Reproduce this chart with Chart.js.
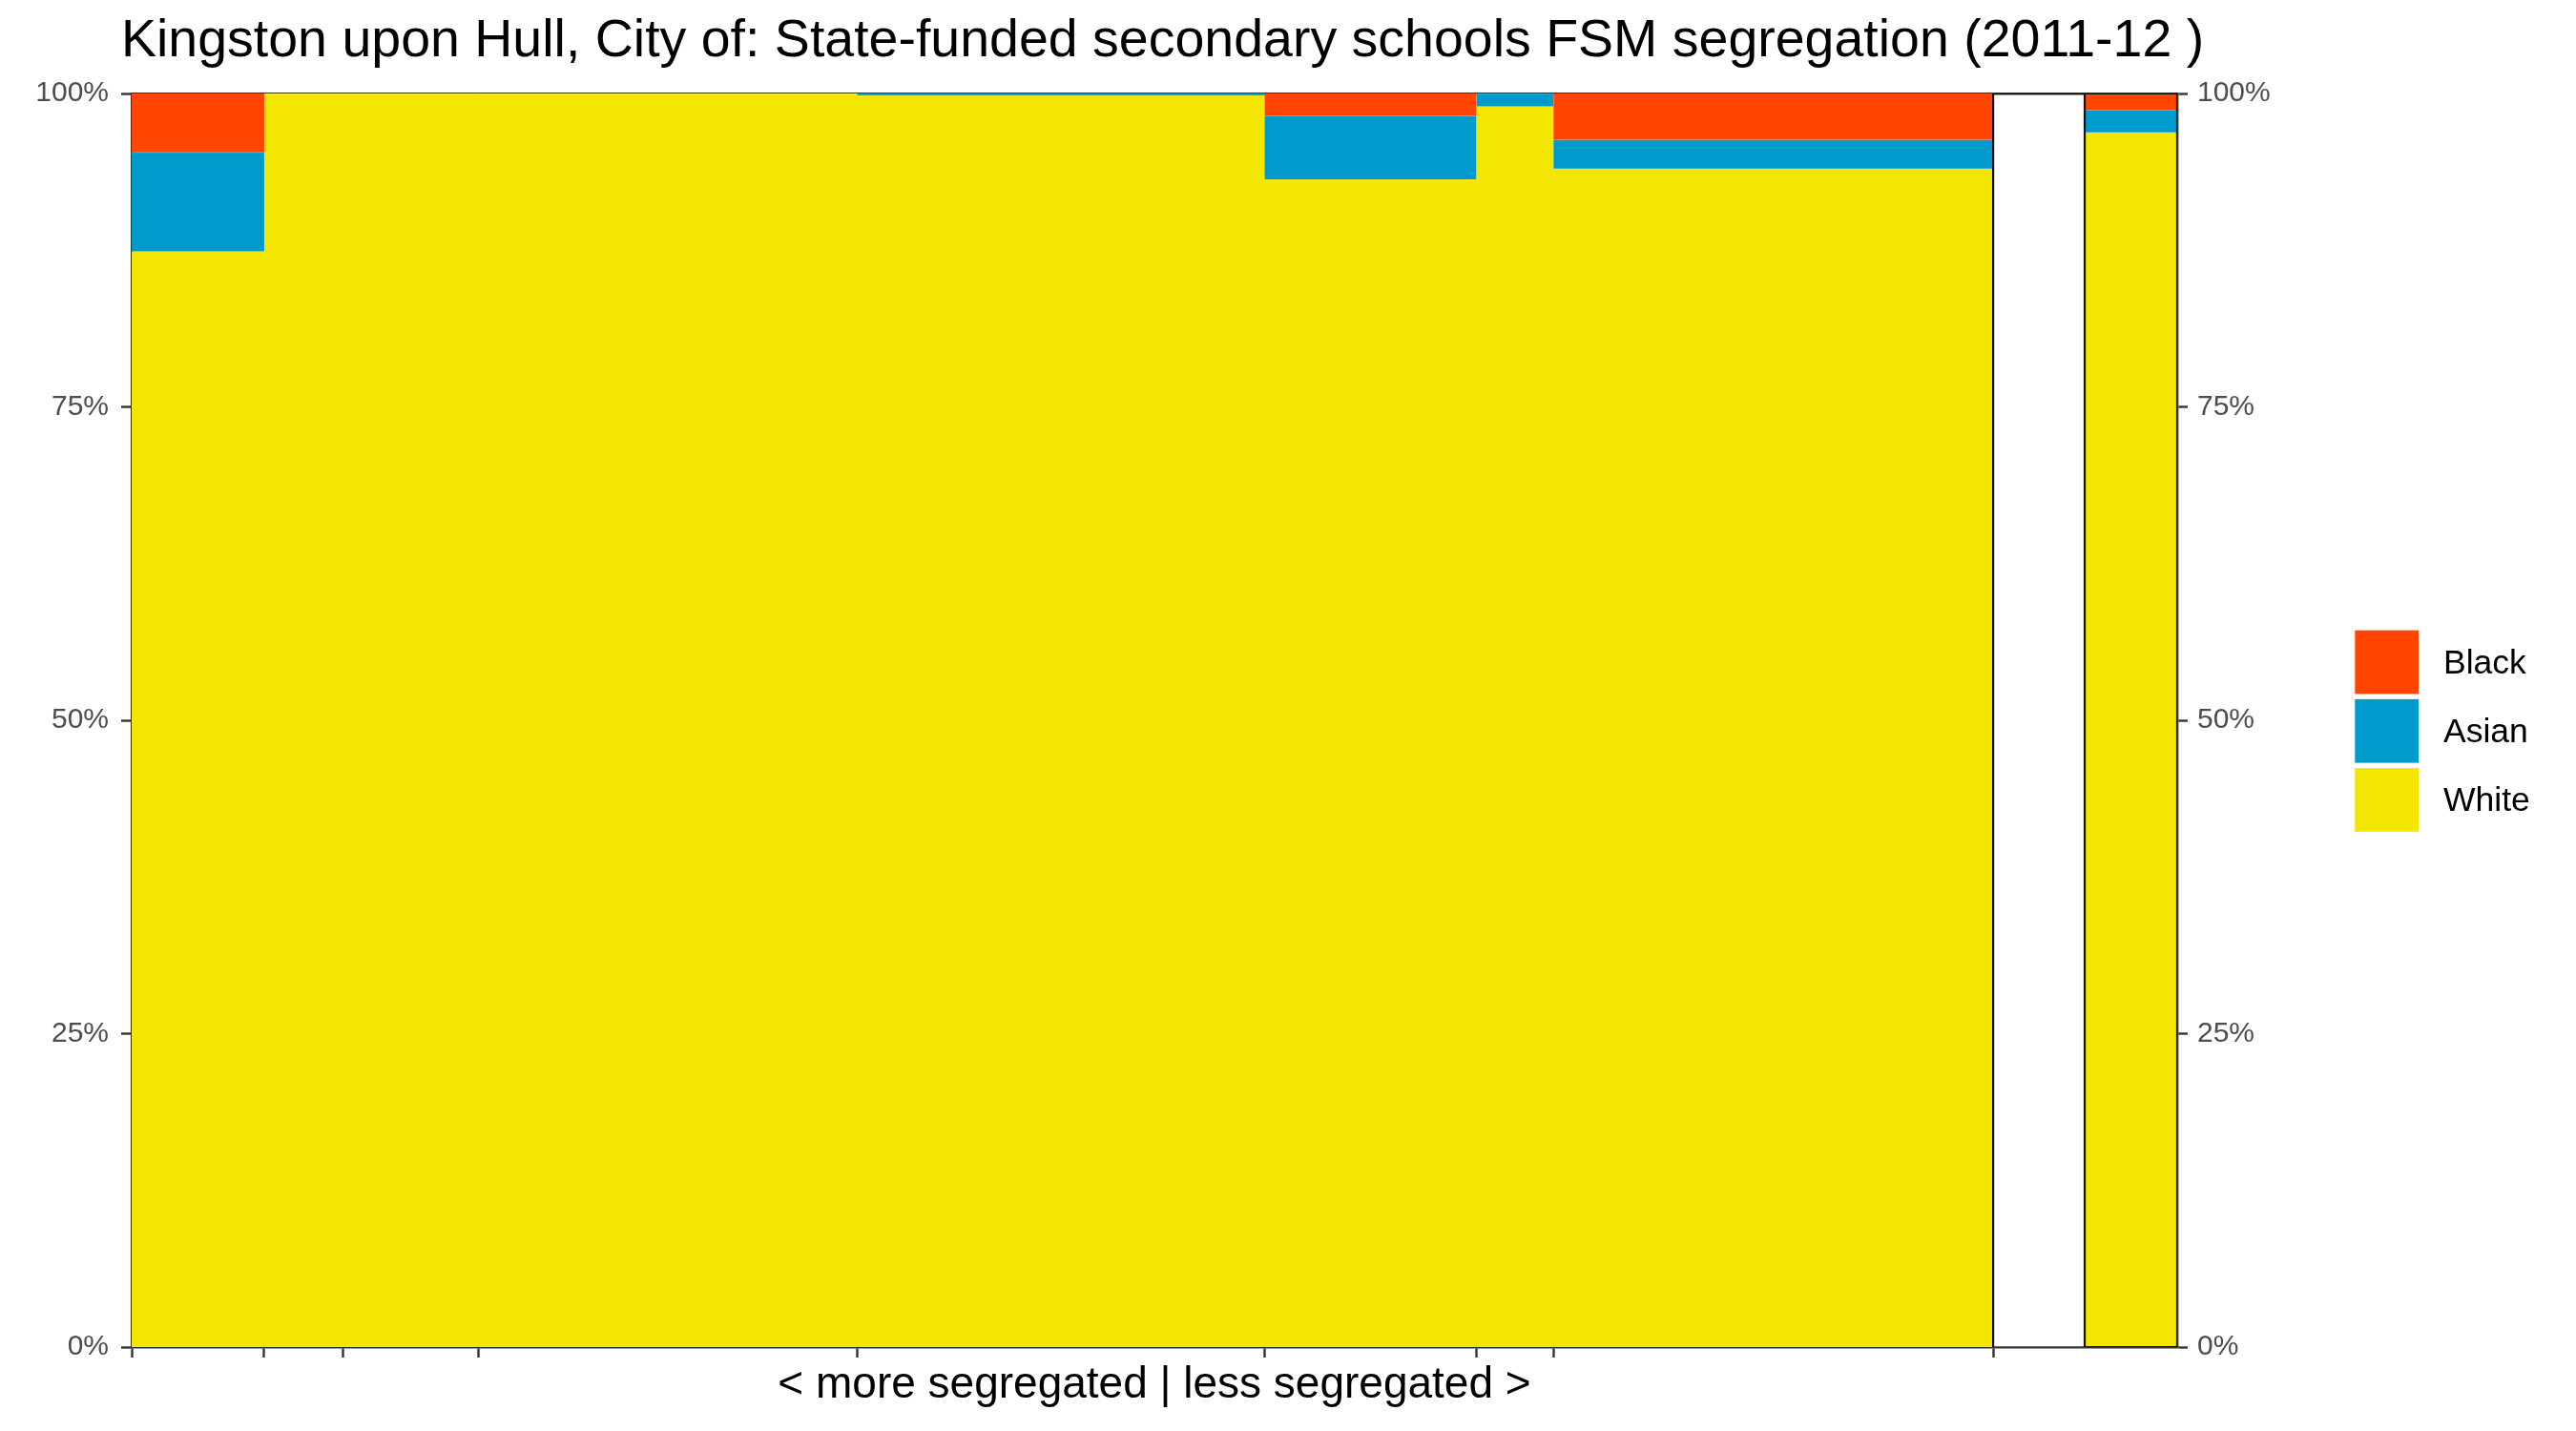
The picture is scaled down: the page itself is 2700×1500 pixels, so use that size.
<!DOCTYPE html>
<html>
<head>
<meta charset="utf-8">
<script src="https://cdn.jsdelivr.net/npm/chart.js@4/dist/chart.umd.min.js"></script>
<style>
html, body { margin: 0; padding: 0; background: #ffffff; }
canvas { display: block; }
</style>
</head>
<body>
<canvas id="chart" width="2700" height="1500"></canvas>
<script>
// ---- data ----
const titleText = 'Kingston upon Hull, City of: State-funded secondary schools FSM segregation (2011-12 )';
const xAxisTitle = '< more segregated | less segregated >';
const seriesNames = ['White', 'Asian', 'Black'];
const seriesColors = ['#F3E600', '#009ACD', '#FF4500'];

// one column per school, widths proportional to FSM pupils
const schoolWidths = [139, 83, 142, 397, 427, 222, 81, 461];
const whitePct = [87.4, 100, 100, 100, 99.85, 93.15, 98.97, 94.0];
const asianPct = [7.9, 0, 0, 0, 0.15, 5.08, 1.03, 2.31];
const blackPct = [4.7, 0, 0, 0, 0, 1.77, 0, 3.69];

// local-authority overall column, after an empty spacer column
const spacerWidth = 96;
const laWidth = 97;
const laPct = [96.89, 1.80, 1.31]; // White, Asian, Black

const yTicks = [0, 25, 50, 75, 100];

// ---- build tables for the library ----
const colWidths = [...schoolWidths, spacerWidth, laWidth];
const seriesValues = [
  [...whitePct, 0, laPct[0]],
  [...asianPct, 0, laPct[1]],
  [...blackPct, 0, laPct[2]]
];
const edges = [0];
colWidths.forEach(w => edges.push(edges[edges.length - 1] + w));
const total = edges[edges.length - 1];
const nSchools = schoolWidths.length;
const gapStart = edges[nSchools];
const laStart = edges[nSchools + 1];

const cumulative = [];
seriesValues.forEach((vals, s) => {
  cumulative.push(vals.map((v, i) => v + (s > 0 ? cumulative[s - 1][i] : 0)));
});
function steppedPoints(cum) {
  const pts = cum.map((y, i) => ({ x: edges[i], y: y }));
  pts.push({ x: edges[edges.length - 1], y: cum[cum.length - 1] });
  return pts;
}

const FONT = '"Liberation Sans", Arial, Helvetica, sans-serif';
Chart.defaults.font.family = FONT;

// layout geometry
const CANVAS_W = 2700;
const PLOT_LEFT = 138;
const PLOT_RIGHT = 2282;
const TITLE_X = 127;
const TITLE_SIZE = 55.5;
const TICK_SIZE = 30;
const measureCtx = document.createElement('canvas').getContext('2d');
measureCtx.font = TITLE_SIZE + 'px ' + FONT;
const titleW = measureCtx.measureText(titleText).width;
// centre the title in a box so that its left edge falls at TITLE_X
const padRight = Math.max(0, CANVAS_W - 2 * TITLE_X - titleW);
const y2Width = CANVAS_W - PLOT_RIGHT - padRight;

const datasets = seriesNames.map((name, s) => ({
  label: name,
  data: steppedPoints(cumulative[s]),
  stepped: 'before',
  fill: s === 0 ? 'origin' : '-1',
  backgroundColor: seriesColors[s],
  borderColor: s === 2 ? 'rgba(0,0,0,0)' : 'rgba(255,255,255,0.3)',
  borderWidth: s === 2 ? 0 : 1,
  pointRadius: 0,
  pointHoverRadius: 0,
  order: 3 - s
}));
datasets.push({
  label: 'outline',
  data: [
    { x: gapStart, y: 0 }, { x: gapStart, y: 100 }, { x: laStart, y: 100 },
    { x: laStart, y: 0 }, { x: total, y: 0 }, { x: total, y: 100 }, { x: laStart, y: 100 }
  ],
  fill: false,
  borderColor: '#111111',
  borderWidth: 2.2,
  pointRadius: 0,
  pointHoverRadius: 0,
  order: 0
});

const sideLegend = {
  id: 'sideLegend',
  afterDraw(chart) {
    const ctx = chart.ctx;
    const order = [2, 1, 0];
    const boxX = 2468.3, boxSize = 66.7, firstTop = 660.7, step = 72.2, textX = 2561;
    ctx.save();
    order.forEach((s, k) => {
      const top = firstTop + k * step;
      ctx.fillStyle = seriesColors[s];
      ctx.fillRect(boxX, top, boxSize, boxSize);
      ctx.fillStyle = '#000000';
      ctx.font = '35.5px ' + FONT;
      ctx.textAlign = 'left';
      ctx.textBaseline = 'middle';
      ctx.fillText(seriesNames[s], textX, top + boxSize / 2 + 2);
    });
    ctx.restore();
  }
};

const axisColor = '#333333';
const tickLabelColor = '#4D4D4D';

new Chart(document.getElementById('chart'), {
  type: 'line',
  data: { datasets },
  plugins: [sideLegend],
  options: {
    responsive: false,
    animation: false,
    devicePixelRatio: 1,
    events: [],
    layout: { padding: { left: 0, right: padRight, top: 0, bottom: 0 } },
    plugins: {
      legend: { display: false },
      tooltip: { enabled: false },
      title: {
        display: true,
        text: titleText,
        align: 'center',
        color: '#000000',
        font: { size: TITLE_SIZE, weight: 'normal', family: FONT, lineHeight: 1.2 },
        padding: { top: 10, bottom: 21.4 }
      }
    },
    scales: {
      x: {
        type: 'linear',
        position: 'bottom',
        min: 0,
        max: total,
        z: 1,
        afterBuildTicks: (scale) => {
          scale.ticks = edges.slice(0, nSchools + 1).map(v => ({ value: v }));
        },
        afterFit: (scale) => { scale.height = 88; },
        ticks: { display: false },
        grid: {
          display: true,
          drawOnChartArea: true,
          drawTicks: true,
          tickLength: 11,
          lineWidth: 1,
          color: (ctx) => (ctx.index === 0 || ctx.index === nSchools) ? 'rgba(0,0,0,0)' : 'rgba(255,255,255,0.28)',
          tickColor: axisColor,
          tickWidth: 2.4
        },
        border: { display: true, color: axisColor, width: 2.4 },
        title: {
          display: true,
          text: xAxisTitle,
          color: '#000000',
          font: { size: 46, family: FONT, lineHeight: 1.2 },
          padding: { top: 0, bottom: 20.5 }
        }
      },
      x2: {
        type: 'linear',
        position: 'top',
        min: 0,
        max: total,
        z: 1,
        afterFit: (scale) => { scale.height = 0; },
        ticks: { display: false },
        grid: { display: false, drawTicks: false },
        border: { display: true, color: axisColor, width: 2.4 }
      },
      y: {
        type: 'linear',
        position: 'left',
        min: 0,
        max: 100,
        z: 1,
        afterBuildTicks: (scale) => { scale.ticks = yTicks.map(v => ({ value: v })); },
        afterFit: (scale) => { scale.width = PLOT_LEFT; },
        ticks: {
          callback: (v) => v + '%',
          color: tickLabelColor,
          font: { size: TICK_SIZE, family: FONT },
          padding: 13
        },
        grid: {
          drawOnChartArea: false,
          drawTicks: true,
          tickLength: 11,
          tickColor: axisColor,
          tickWidth: 2.4
        },
        border: { display: true, color: axisColor, width: 2.4 }
      },
      y2: {
        type: 'linear',
        position: 'right',
        min: 0,
        max: 100,
        z: 1,
        afterBuildTicks: (scale) => { scale.ticks = yTicks.map(v => ({ value: v })); },
        afterFit: (scale) => { scale.width = y2Width; },
        ticks: {
          callback: (v) => v + '%',
          color: tickLabelColor,
          font: { size: TICK_SIZE, family: FONT },
          padding: 10
        },
        grid: {
          drawOnChartArea: false,
          drawTicks: true,
          tickLength: 11,
          tickColor: axisColor,
          tickWidth: 2.4
        },
        border: { display: true, color: axisColor, width: 2.4 }
      }
    }
  }
});
</script>
</body>
</html>
